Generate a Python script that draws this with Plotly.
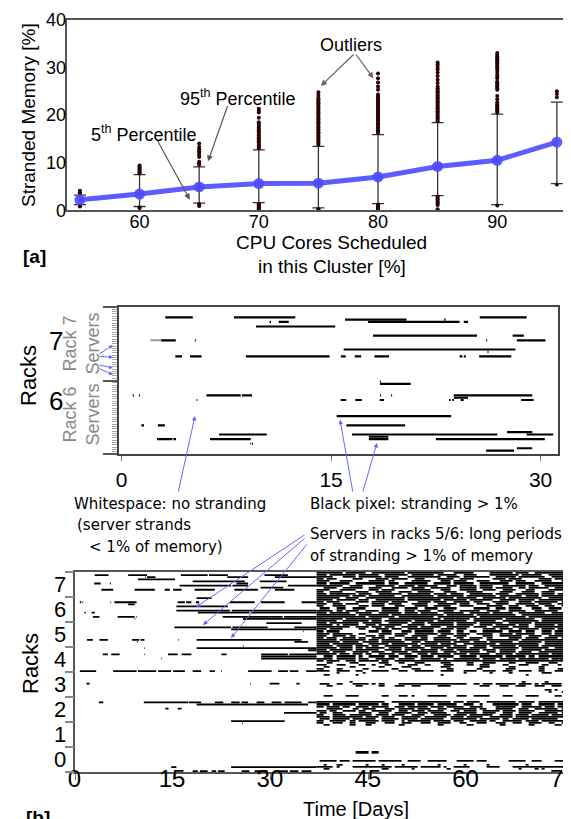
import plotly.graph_objects as go

W, H = 571, 819

# ---------------- panel [a] data ----------------
cores = [55, 60, 65, 70, 75, 80, 85, 90, 95]
median = [2.2, 3.4, 4.9, 5.6, 5.7, 7.0, 9.2, 10.5, 14.3]
p95 = [3.2, 7.5, 9.1, 12.7, 13.4, 15.9, 18.4, 20.2, 22.7]
p5 = [1.2, 0.8, 1.5, 1.6, 0.5, 1.4, 3.1, 1.2, 5.6]

out_55 = [3.5, 3.8, 4.1, 1.0, 0.8]
out_60 = [7.7, 8.0, 8.3, 8.6, 8.9, 9.2, 9.4, 0.6, 0.5]
out_65 = [9.5, 9.9, 10.2, 11.2, 11.6, 12.0, 12.4, 12.8, 13.3, 14.0, 1.3, 1.1, 0.9]
out_70 = [13.0, 13.3, 13.6, 13.9, 14.2, 14.5, 14.8, 15.1, 15.4, 15.7, 16.0, 16.3, 16.6,
          17.0, 17.4, 17.8, 18.2, 18.5, 19.4, 20.5, 20.9, 21.3,
          1.4, 1.2, 1.0, 0.8, 0.6, 0.4, 0.2]
out_75 = [13.7, 14.0, 14.3, 14.6, 14.9, 15.2, 15.5, 15.8, 16.1, 16.4, 16.7, 17.0, 17.3,
          17.6, 17.9, 18.2, 18.5, 18.8, 19.1, 19.4, 19.7, 20.0, 20.3, 20.6, 20.9, 21.2,
          21.5, 21.8, 22.1, 22.4, 22.7, 23.0, 23.3, 23.6, 24.2, 24.8, 0.3, 0.2]
out_80 = [16.2, 16.5, 16.8, 17.1, 17.4, 17.7, 18.0, 18.3, 18.6, 18.9, 19.2, 19.5, 19.8,
          20.1, 20.4, 20.7, 21.0, 21.3, 21.6, 21.9, 22.2, 22.5, 22.8, 23.1, 23.4, 23.7,
          24.0, 24.3, 25.3, 26.0, 26.8, 27.7, 28.7, 1.2, 1.0, 0.8, 0.6, 0.4, 0.2]
out_85 = [18.7, 19.0, 19.3, 19.6, 19.9, 20.2, 20.5, 20.8, 21.1, 21.4, 21.7, 22.0, 22.3,
          22.6, 22.9, 23.2, 23.5, 23.8, 24.1, 24.4, 24.7, 25.0, 25.3, 25.6, 26.0, 26.7,
          27.4, 28.2, 28.9, 29.6, 30.1, 30.6, 31.0, 2.9, 2.6, 2.3, 2.0, 1.7, 1.4, 1.1, 0.2]
out_90 = [20.5, 20.8, 21.1, 21.4, 21.7, 22.0, 22.3, 22.6, 23.3, 24.0, 25.3, 25.6, 25.9,
          26.2, 26.5, 26.8, 27.0, 27.7, 28.1, 28.5, 29.0, 29.6, 29.9, 30.2, 30.5, 30.8,
          31.1, 31.4, 31.7, 32.0, 32.3, 32.6, 33.0, 1.0]
out_95 = [23.7, 24.4, 25.0, 5.4]
outliers = {55: out_55, 60: out_60, 65: out_65, 70: out_70, 75: out_75,
            80: out_80, 85: out_85, 90: out_90, 95: out_95}

# ---------------- panel [b] top: racks 6/7 zoom (row, start_day, end_day) ----------------
zoom_segments = [
    (4, 3.13, 5.1), (4, 8.05, 12.44), (4, 25.64, 29.0),
    (5, 16.0, 20.4), (5, 23.1, 23.2),
    (6, 17.65, 24.2), (6, 24.5, 24.8), (6, 11.25, 11.97), (6, 10.6, 10.7),
    (8, 9.63, 15.3),
    (12, 18.0, 25.45), (12, 28.0, 28.8),
    (14, 2.85, 3.88), (14, 5.25, 5.32), (14, 26.1, 26.17), (14, 28.3, 30.35),
    (18, 15.9, 28.2),
    (19, 26.2, 26.27),
    (21, 3.85, 4.33), (21, 4.9, 5.73), (21, 8.9, 14.9), (21, 15.7, 16.05), (21, 16.7, 17.15),
    (21, 18.1, 19.15), (21, 24.2, 24.4), (21, 24.5, 24.65), (21, 25.6, 27.9),
    (32, 18.5, 18.57),
    (33, 18.5, 20.7),
    (38, 0.8, 0.88), (38, 1.25, 1.32), (38, 6.07, 8.53), (38, 8.62, 9.34), (38, 18.5, 18.57),
    (38, 19.3, 19.37), (38, 23.77, 29.4),
    (39, 23.8, 24.8),
    (40, 5.36, 5.43), (40, 15.69, 16.09), (40, 16.74, 17.2), (40, 18.48, 18.79),
    (40, 23.44, 23.56), (40, 23.68, 23.8), (40, 24.28, 24.49), (40, 28.6, 29.5),
    (47, 15.4, 23.6),
    (51, 1.42, 1.61), (51, 2.6, 3.1), (51, 16.1, 20.3),
    (54, 27.6, 29.4),
    (55, 6.98, 10.4), (55, 16.5, 26.9), (55, 29.0, 30.9),
    (56, 17.7, 19.1),
    (57, 2.54, 3.64), (57, 3.71, 3.9), (57, 6.33, 9.25), (57, 17.7, 19.1), (57, 22.5, 30.3),
    (59, 9.22, 9.28), (59, 9.34, 9.4),
    (61, 28.3, 29.4),
    (62, 26.1, 28.1),
]
zoom_gray_segments = [(14, 2.06, 3.1)]
ZOOM_ROWS = 64  # 32 servers per rack, racks 6 and 7

# ---------------- panel [b] bottom: all racks, 75 days ----------------
# sparse part (days 0-37): (row, start_day, end_day); 12 rows per rack, row 0 = top of rack 7
sparse_segments = [
    (1, 2.97, 5.1), (1, 8.1, 11.0), (1, 16.2, 20.3), (1, 20.5, 23.4), (1, 29.0, 32.6),
    (2, 10.7, 10.8), (2, 11.0, 12.3), (2, 23.3, 26.5), (2, 30.6, 37.0),
    (3, 9.6, 15.3),
    (4, 18.0, 26.0), (4, 28.3, 32.4),
    (5, 2.9, 3.9), (5, 5.3, 5.45), (5, 24.7, 26.5),
    (6, 16.0, 23.9), (6, 24.1, 26.5), (6, 32.6, 37.0),
    (7, 28.4, 31.9),
    (8, 4.0, 5.8), (8, 9.1, 12.2), (8, 13.7, 14.5), (8, 15.0, 16.3), (8, 18.3, 21.4),
    (8, 24.4, 28.0), (8, 30.6, 33.6),
    (12, 18.6, 20.9),
    (14, 0.7, 0.9), (14, 1.1, 1.2), (14, 5.4, 5.5), (14, 6.0, 9.4), (14, 15.7, 16.8),
    (14, 17.0, 17.8), (14, 18.5, 19.0), (14, 23.7, 27.5), (14, 28.5, 32.1), (14, 34.7, 37.0),
    (15, 8.1, 9.1),
    (16, 15.5, 23.4),
    (18, 15.5, 23.7), (18, 24.0, 37.0),
    (19, 1.4, 1.6), (19, 2.5, 3.0), (19, 18.8, 26.7), (19, 26.9, 37.0),
    (21, 2.7, 3.7), (21, 6.5, 9.1), (21, 9.3, 9.4), (21, 22.6, 31.8), (21, 32.0, 37.0),
    (22, 9.1, 9.2), (22, 25.7, 37.0),
    (24, 29.3, 34.7),
    (26, 15.2, 23.9), (26, 24.1, 29.5), (26, 33.6, 37.0),
    (27, 23.9, 37.0),
    (28, 34.9, 35.0),
    (32, 1.8, 2.7), (32, 3.7, 5.0), (32, 8.7, 9.8), (32, 10.0, 10.6), (32, 15.8, 15.9),
    (32, 18.6, 34.7),
    (33, 9.5, 9.6), (33, 33.6, 35.7),
    (35, 25.7, 25.8),
    (36, 10.6, 10.7), (36, 18.6, 37.0),
    (37, 35.7, 37.0),
    (39, 4.2, 5.0), (39, 5.5, 6.8), (39, 10.6, 10.7), (39, 14.2, 15.7), (39, 16.3, 17.8),
    (39, 22.4, 23.2), (39, 28.5, 32.6), (39, 32.8, 37.0),
    (40, 28.5, 37.0),
    (41, 13.2, 13.3), (41, 28.5, 37.0),
    (47, 0.7, 3.2), (47, 5.8, 9.4), (47, 9.6, 12.4), (47, 12.7, 14.7), (47, 15.0, 16.8),
    (47, 18.0, 19.3), (47, 20.6, 21.4), (47, 22.4, 22.5), (47, 26.5, 30.1), (47, 31.1, 32.6),
    (47, 32.9, 34.2), (47, 35.4, 37.0),
    (53, 1.7, 2.2), (53, 26.8, 26.9), (53, 29.8, 31.3), (53, 33.9, 34.4),
    (62, 3.6, 4.3), (62, 10.5, 17.3), (62, 17.4, 19.3), (62, 21.4, 22.7), (62, 23.9, 25.2),
    (62, 25.5, 26.5), (62, 27.8, 29.0), (62, 30.1, 31.6), (62, 32.1, 34.7), (62, 35.7, 37.0),
    (63, 18.6, 35.7),
    (65, 13.8, 14.3), (65, 15.7, 16.3),
    (67, 32.0, 37.0),
    (71, 23.9, 32.1),
    (72, 25.6, 25.7),
    (93, 14.7, 15.5), (93, 23.9, 37.0),
    (95, 18.0, 18.8), (95, 19.1, 20.3), (95, 20.9, 21.6), (95, 21.9, 22.9), (95, 25.5, 26.7),
    (95, 27.5, 29.5), (95, 31.1, 32.6), (95, 32.9, 34.2), (95, 34.7, 36.2),
]
# dense part (days 37-75), one character per half day, '#' = stranding > 1%
DENSE_START = 37.0
DENSE_COLS = 76
RACK_ROWS = 96
dense_rows = {
    0: "########.######..##########.###########...######.....#######.####..#########",
    1: "###.########.######..#######.#######.######..####....#########.######..#####",
    2: "#####...####.#######.####...##########..####.########..######.########..####",
    3: "##.###.....###....####.#####..###....#####..####......####.####.....####.###",
    4: "####...####.....#####.##.....######...###.####...####...####.###...#####...##",
    5: "###.######..#########.###..#######..#####.######..#########..######..#######",
    6: "########..####....######.#####.######...###.#####.####...#######.###..######",
    7: "..####..######..####...#####.####..######...#####.####.#####..##.######..###",
    8: "####...#####....###.####.....######...###...#####..####..####...###....#####",
    9: "##..####....####..#####..####..#####...####...#####.....####...####..####...#",
    10: "###.########.####..#######..#######.####.####..#######.####..#######.####.###",
    11: "##########.####.########..##########.########.#########.#######.####.########",
    12: "#######..####..############.##############.######..#######.##########..######",
    13: "#####.######.###..#########.##########.#######.#######..#####.#####.#########",
    14: "##.####.....####.#####.#####...####.####..#####.###...#####...####.#######.##",
    15: "###..###.####....####.####...#####...######.###..####..####..######.####..##",
    16: "##...####....###.####...###...####..#####...####....#####..###..####..###..##",
    17: ".###..###..####.....#####..####..####..####.....#####..###.####...###..####.#",
    18: "#####.##.####..####.#####..###.####..#####..######..####...#####...#######..#",
    19: "###.######..#####..#######.####.#####..######..######.######..########..#####",
    20: "############.#########.################.########.############..##############",
    21: "###############.########.###########.############.##############.############",
    22: "########.###########..################.########.#########.#########..########",
    23: "######..########.###.########.######.#########..#######..###########.#######",
    24: "###.#########.######..######.####.########.######.#######..#######.#########",
    25: "#####.#.#####..###.#######..#####..#######.#####..####.######.###..######.###",
    26: "##########..####.###.###..#####.######..#######.####..#####.#####..#########",
    27: "###.####.....##...####.###..########..####.###.....####.####..######.####.##",
    28: "##.####.........###.###...###.######.####..##..##..######..####.###..###.###",
    29: "####.######..##....####.####..#######.####.####..#####..####.######..###.###",
    30: "###..####.##...###.##...###..#####...###..####.....###..#######..####..#####",
    31: "##.###..####.##..####.##...####.##..#####..##..####.##.....####.####..####.#",
    32: "######.########.###.######.#######..#######.######..##########.#############",
    33: "#######.#####.#####.#######..###.########.#####.####.#######..#######.######",
    34: "####.#########..######.########.#####.#####..##########.############..######",
    35: "#####.#####.####.##..#######.###.########.####..####.########.######.#######",
    36: "######.####.##.######.####.######..####.######.#####..########.########..###",
    37: "###.#######.#######..#####.####.#####.####.#######.####.#####..######.######",
    38: "####.####..#####.####..#####.########..####.######..###.#####.####..########",
    39: "######.###.###.##..#####.####..###.######.####.######..#####.##########.####",
    40: "..###.######.#..#####.###..####.####.#####..#####.#######.######.##.########",
    41: "#####.######.###..######.#####..######.#..########.####.#####.#########.####",
    42: "##.####..###.######.##..####################################################",
    43: "...##.....###......###...##...###.....###.....##...####....##...####...###..",
    44: "###...###....##..#...##.....###..##....###....##..###....##...###....##...#.",
    45: "..##......##.......##.....###.........###.........###......##.......##......",
    46: "##....##......##.......##....###........##.......##.......###.......##....##",
    47: "####..####..##...#####...###..######..####...####..####..###..####..##...###",
    48: "......#.......#..............................#.......#.....#.........###....",
    49: "..##........#.........................#.........................#...........",
    52: "..........#....................................................#......#......",
    53: ".###..##...#####.#.##....#####################..##.###.######.####.#.######",
    54: "...##.......##.....##...###..###.....####.........###...###..###...###..###.",
    56: "......................................................................##.#..",
    57: ".......................................................................#...#",
    59: "..###....####.......##...###.#....######...###..#####....###....####.....##.",
    62: "#####################..##################.###.####..#########.#####.########",
    63: "####.#######.######.##...#####.#####.######..###..#...########.###..#####.###",
    64: "##.####.##..####.#####..###.######.####.#####..####....######..######.###.###",
    65: "...#####...##.####...###.#####.####..###..#######.##...#####..###..#######.##",
    66: "###.##..####.##..######..###.####.#####..###.####..#####.####.#####...######",
    67: ".##..###.....####..###..#####..###.#####...######..####..###..####..######.#",
    68: "##...####.#######.####.####..####...#####.####.#######..####.####.#####.####",
    69: "####.#########.####.####..######.#######.####.#####..#######.###############",
    70: ".###.#####.#######..#####.#####.#######..########.######.##.#####.########..",
    71: "##..#####.##.######.####..#.#######.#####.###..#####.##..######.####.#######",
    72: "##...###..##...###...###..###...###..####...##...###...###..###..####..##..#",
    73: "..##......##...##........##..........##.......##........##.......##......##.",
    86: "............####.##.........................................................",
    90: ".#####.###.#######.#######..####..######...#####.###.......#####..###....###",
    92: "..#...##.......#....#.....#..........#.......#......#...........#...........",
    93: "#####.#....############.#######.######.#..#####.....####....################",
    94: "..##................##.......#..........#.....................#....#.#......",
}

# ---------------- helpers ----------------
def seg_xy(segs, y_of_row):
    xs, ys = [], []
    for r, a, b in segs:
        xs += [a, b, None]
        ys += [y_of_row(r), y_of_row(r), None]
    return xs, ys

def zoom_y(r):
    return 8 - (r + 0.5) / (ZOOM_ROWS / 2)

def rack_y(r):
    return 8 - (r + 0.5) / 12

FONT = "Liberation Sans, Arial, sans-serif"
DV = "DejaVu Sans, Verdana, sans-serif"
BLUE_ARROW = "#6666ff"

fig = go.Figure()

# ---- panel a traces ----
fig.add_trace(go.Scatter(
    x=cores, y=median, mode="markers", marker=dict(opacity=0), xaxis="x", yaxis="y",
    error_y=dict(type="data", symmetric=False,
                 array=[h - m for h, m in zip(p95, median)],
                 arrayminus=[m - l for m, l in zip(median, p5)],
                 color="#333333", thickness=1.3, width=6),
    showlegend=False, hoverinfo="skip"))
ox, oy = [], []
for c in cores:
    for v in outliers[c]:
        ox.append(c)
        oy.append(v)
fig.add_trace(go.Scatter(x=ox, y=oy, mode="markers", xaxis="x", yaxis="y",
                         marker=dict(size=4, color="#2a0404"), showlegend=False,
                         hoverinfo="skip"))
fig.add_trace(go.Scatter(x=cores, y=median, mode="lines+markers", xaxis="x", yaxis="y",
                         line=dict(color="rgba(75,75,255,0.9)", width=5),
                         marker=dict(size=11, color="rgba(75,75,255,0.9)"),
                         showlegend=False, hoverinfo="skip"))

# ---- panel b zoom traces ----
gx, gy = seg_xy(zoom_gray_segments, zoom_y)
fig.add_trace(go.Scatter(x=gx, y=gy, mode="lines", xaxis="x2", yaxis="y2",
                         line=dict(color="#999999", width=2), showlegend=False,
                         hoverinfo="skip"))
zx, zy = seg_xy(zoom_segments, zoom_y)
fig.add_trace(go.Scatter(x=zx, y=zy, mode="lines", xaxis="x2", yaxis="y2",
                         line=dict(color="black", width=2.2), showlegend=False,
                         hoverinfo="skip"))

# ---- panel b full traces ----
sx, sy = seg_xy(sparse_segments, rack_y)
fig.add_trace(go.Scatter(x=sx, y=sy, mode="lines", xaxis="x3", yaxis="y3",
                         line=dict(color="black", width=1.8), showlegend=False,
                         hoverinfo="skip"))
z = []
for r in range(RACK_ROWS):
    s = dense_rows.get(r, "").ljust(DENSE_COLS, ".")[:DENSE_COLS]
    z.append([1 if ch == "#" else 0 for ch in s])
fig.add_trace(go.Heatmap(
    z=z, x=[DENSE_START + 0.25 + 0.5 * c for c in range(DENSE_COLS)],
    y=[rack_y(r) for r in range(RACK_ROWS)], xaxis="x3", yaxis="y3",
    colorscale=[[0, "rgba(255,255,255,0)"], [1, "black"]], zmin=0, zmax=1,
    ygap=0.3, showscale=False, hoverinfo="skip"))

# ---------------- layout ----------------
def dom_x(a, b):
    return [a / W, b / W]

def dom_y(top, bottom):
    return [1 - bottom / H, 1 - top / H]

frame = dict(showline=True, mirror=True, linecolor="#555555", linewidth=1.5,
             showgrid=False, zeroline=False, automargin=False)

layout = dict(
    width=W, height=H, margin=dict(l=0, r=0, t=0, b=0, autoexpand=False),
    paper_bgcolor="white", plot_bgcolor="white", showlegend=False,
    font=dict(family=FONT, color="black"),
    xaxis=dict(domain=dom_x(59.3, 559), range=[53.94, 95.85], anchor="y",
               tickvals=[60, 70, 80, 90], ticks="", tickfont=dict(size=18),
               ticklabelstandoff=-6, **frame),
    yaxis=dict(domain=dom_y(11.7, 202.3), range=[0, 40], anchor="x",
               tickvals=[0, 10, 20, 30, 40], ticks="", tickfont=dict(size=18),
               ticklabelstandoff=-4, **frame),
    xaxis2=dict(domain=dom_x(110.9, 550.2), range=[-0.19, 31.26], anchor="y2",
                tickvals=[0, 15, 30], ticks="outside", ticklen=5, tickcolor="#777777",
                tickfont=dict(size=21), ticklabelstandoff=1, showline=True, mirror=True,
                linecolor="#444444", linewidth=2, showgrid=False, zeroline=False,
                automargin=False),
    yaxis2=dict(domain=dom_y(299, 446), range=[6, 8], anchor="x2",
                tickvals=[6, 7, 8], ticks="outside", ticklen=14, tickcolor="#555555",
                tickwidth=1.5, showticklabels=False,
                minor=dict(tickmode="array",
                           tickvals=[6 + k / 32 for k in range(1, 64) if k != 32],
                           ticks="outside", ticklen=5, tickcolor="#aaaaaa", tickwidth=1),
                showline=True, mirror=True, linecolor="#444444", linewidth=2,
                showgrid=False, zeroline=False, automargin=False),
    xaxis3=dict(domain=dom_x(67.3, 556.4), range=[0, 75], anchor="y3",
                tickvals=[0, 15, 30, 45, 60, 75], ticks="outside", ticklen=6,
                tickcolor="#777777", tickfont=dict(size=24), ticklabelstandoff=-22,
                ticklabelshift=-1, **frame),
    yaxis3=dict(domain=dom_y(564, 764.3), range=[0, 8], anchor="x3",
                tickvals=[0.5 + k for k in range(8)], ticktext=[str(k) for k in range(8)],
                ticks="", tickfont=dict(size=22), ticklabelstandoff=3,
                minor=dict(tickmode="array", tickvals=list(range(9)), ticks="outside",
                           ticklen=9, tickcolor="#888888", tickwidth=1.5),
                **frame),
)

ann = []

def P(x, y):
    return x / W, 1 - y / H

def text(x, y, s, size, color="black", family=FONT, xanchor="center", angle=0):
    px, py = P(x, y)
    ann.append(dict(x=px, y=py, xref="paper", yref="paper", text=s, showarrow=False,
                    font=dict(size=size, color=color, family=family), xanchor=xanchor,
                    yanchor="middle", textangle=angle))

def arrow(tx, ty, hx, hy, color, width=1.2, head=2, size=1.0):
    px, py = P(hx, hy)
    ann.append(dict(x=px, y=py, xref="paper", yref="paper", text="", showarrow=True,
                    ax=tx - hx, ay=ty - hy, axref="pixel", ayref="pixel",
                    arrowcolor=color, arrowwidth=width, arrowhead=head, arrowsize=size,
                    standoff=0, startstandoff=0))

# panel a texts
text(21, 107, "Stranded Memory [%]", 19, angle=-90)
text(323.6, 235, "CPU Cores Scheduled", 19)
text(323.6, 258, "in this Cluster [%]", 19)
text(26, 248, "<b>[a]</b>", 19)
text(343, 37, "Outliers", 18)
arrow(347, 45, 312.9, 77.9, "#666666")
arrow(347, 45, 365.4, 70.3, "#666666")
text(230, 89, "95<sup>th</sup> Percentile", 18)
arrow(220, 96.7, 200, 153.3, "#555555")
text(136, 125, "5<sup>th</sup> Percentile", 18)
arrow(149, 131.7, 181.8, 191.7, "#555555")

# panel b zoom texts
text(21, 368, "Racks", 22, angle=-90)
text(48, 333, "7", 26)
text(48, 393, "6", 26)
text(72.5, 336, "Rack 7<br>Servers", 18, color="#888888", angle=-90)
text(72.5, 407, "Rack 6<br>Servers", 18, color="#888888", angle=-90)
arrow(90, 346.7, 105, 337.3, BLUE_ARROW, 1, 2, 0.8)
arrow(90, 348.3, 105, 349.3, BLUE_ARROW, 1, 2, 0.8)
arrow(90, 356.7, 105, 360.0, BLUE_ARROW, 1, 2, 0.8)
arrow(90, 360.0, 105, 366.7, BLUE_ARROW, 1, 2, 0.8)

text(64, 496, "Whitespace: no stranding", 15, family=DV, xanchor="left")
text(67, 517, "(server strands", 15, family=DV, xanchor="left")
text(79, 539, "< 1% of memory)", 15, family=DV, xanchor="left")
text(300, 496, "Black pixel: stranding > 1%", 15, family=DV, xanchor="left")
text(300, 526, "Servers in racks 5/6: long periods", 15, family=DV, xanchor="left")
text(300, 548, "of stranding > 1% of memory", 15, family=DV, xanchor="left")
arrow(170, 485, 187, 408, BLUE_ARROW, 1, 2, 0.9)
arrow(345, 485, 332, 411.7, BLUE_ARROW, 1, 2, 0.9)
arrow(354.5, 485, 369, 435, BLUE_ARROW, 1, 2, 0.9)
arrow(298, 526, 188, 599, BLUE_ARROW, 1, 2, 0.9)
arrow(298, 529.3, 195, 617, BLUE_ARROW, 1, 2, 0.9)
arrow(300, 535, 223, 630, BLUE_ARROW, 1, 2, 0.9)

# panel b full texts
text(22, 656, "Racks", 22, angle=-90)
text(348, 801, "Time [Days]", 20)
text(30, 809, "<b>[b]</b>", 19)

layout["annotations"] = ann
fig.update_layout(**layout)
fig.write_html("out.html")
